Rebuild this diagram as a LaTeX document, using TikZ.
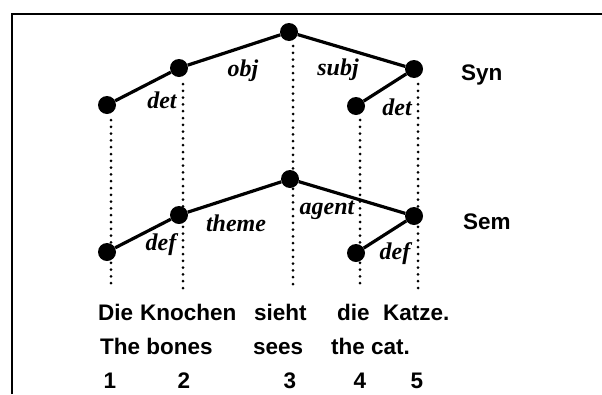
\documentclass[tikz,border=0pt]{standalone}
\usepackage{fontspec}
\setmainfont{Liberation Sans}
\newfontfamily\labfont{Liberation Serif}
\begin{document}
\begin{tikzpicture}[x=1pt,y=-1pt,
  dot/.style={circle,fill=black,inner sep=0pt,minimum size=18pt},
  edge/.style={line width=3.2pt},
  dots/.style={line width=3pt,line cap=round,dash pattern=on 0pt off 6.8pt},
  rel/.style={font=\labfont\bfseries\itshape\fontsize{24}{26}\selectfont,inner sep=0pt},
  word/.style={font=\bfseries\fontsize{22.5}{26}\selectfont,inner sep=0pt,anchor=base west},
  num/.style={font=\bfseries\fontsize{22.5}{26}\selectfont,inner sep=0pt,anchor=base},
  frame/.style={line width=2.4pt}]
\useasboundingbox (0,0) rectangle (602,394);
% frame
\coordinate (fl) at (12,394);
\coordinate (fc) at (12,14);
\coordinate (fr) at (602,14);
\draw[frame] (fl) -- (fc) -- (fr);
% dotted projection lines
\coordinate (d1t) at (111,120); \coordinate (d1b) at (111,284);
\coordinate (d2t) at (183,84);  \coordinate (d2b) at (183,288);
\coordinate (d3t) at (293,46);  \coordinate (d3b) at (293,290);
\coordinate (d4t) at (360,120); \coordinate (d4b) at (360,288);
\coordinate (d5t) at (418,84);  \coordinate (d5b) at (418,289);
\foreach \i in {1,...,5}{\draw[dots] (d\i t) -- (d\i b);}
% Syn nodes
\node[dot] (n1) at (107,105) {};
\node[dot] (n2) at (179,68) {};
\node[dot] (n3) at (289,32) {};
\node[dot] (n4) at (356,106) {};
\node[dot] (n5) at (414,69) {};
% Sem nodes
\node[dot] (m1) at (107,252) {};
\node[dot] (m2) at (179,215) {};
\node[dot] (m3) at (290,179) {};
\node[dot] (m4) at (356,253) {};
\node[dot] (m5) at (414,216) {};
\draw[edge] (n1) -- (n2) -- (n3) -- (n5) -- (n4);
\draw[edge] (m1) -- (m2) -- (m3) -- (m5) -- (m4);
% relation labels
\node[rel] (l1) at (162,100) {det};
\node[rel] (l2) at (243,71) {obj};
\node[rel] (l3) at (338,70) {subj};
\node[rel] (l4) at (397,107) {det};
\node[rel] (l5) at (161,245) {def};
\node[rel] (l6) at (236,223) {theme};
\node[rel] (l7) at (327,210) {agent};
\node[rel] (l8) at (395,254) {def};
% level labels
\node[word,anchor=west] (syn) at (461,75) {Syn};
\node[word,anchor=west] (sem) at (463,222) {Sem};
% sentence
\node[word] (w1) at (98,320) {Die};
\node[word] (w2) at (140,320) {Knochen};
\node[word] (w3) at (254,320) {sieht};
\node[word] (w4) at (337,320) {die};
\node[word] (w5) at (383,320) {Katze.};
\node[word] (g1) at (100,354) {The bones};
\node[word] (g3) at (253,354) {sees};
\node[word] (g4) at (331,354) {the cat.};
\node[num] (k1) at (110,388) {1};
\node[num] (k2) at (184,388) {2};
\node[num] (k3) at (290,388) {3};
\node[num] (k4) at (360,388) {4};
\node[num] (k5) at (417,388) {5};
\end{tikzpicture}
\end{document}
